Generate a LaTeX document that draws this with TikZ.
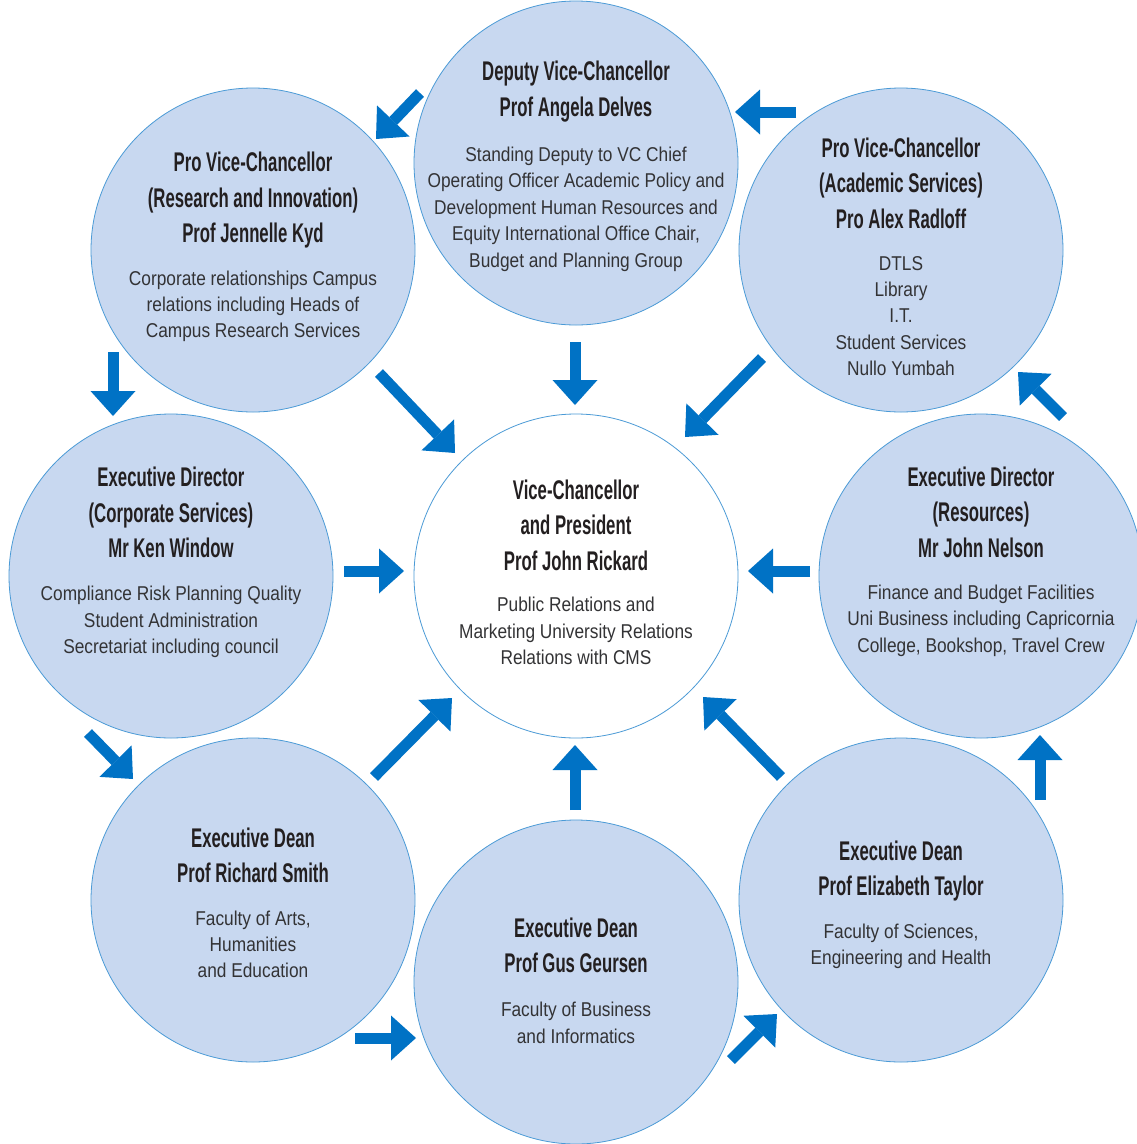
\documentclass[tikz,border=0pt]{standalone}
\usepackage{fontspec}
\setmainfont{Liberation Sans}
\newfontfamily\ttlfont[FakeStretch=0.62]{Liberation Sans}
\newfontfamily\bdyfont[FakeStretch=0.865]{Liberation Sans}
\usetikzlibrary{arrows.meta}
\definecolor{cfill}{HTML}{C8D8F0}
\definecolor{cline}{HTML}{4A9AD6}
\definecolor{arrc}{HTML}{0072C5}
\definecolor{tcol}{HTML}{231F20}
\definecolor{bcol}{HTML}{333335}
\tikzset{
  circ/.style={circle, minimum size=324pt, inner sep=0pt, fill=cfill, draw=cline, line width=0.8pt},
  ccirc/.style={circ, fill=white},
  ttl/.style={font=\ttlfont\bfseries\fontsize{27}{30}\selectfont, text=tcol, anchor=base, inner sep=0pt},
  bdy/.style={font=\bdyfont\fontsize{20}{24}\selectfont, text=bcol, anchor=base, inner sep=0pt},
  arr/.style={draw=arrc, line width=11pt, line cap=butt, -{Triangle[width=45pt,length=25pt,line width=0pt]}}
}
\newcommand\circtxt[6]{%
  \foreach \myln [count=\i] in {#4} {\node[ttl] (#1-t\i) at (#2,{#3+35.5*(\i-1)}) {\myln};}
  \foreach \myln [count=\i] in {#6} {\node[bdy] (#1-b\i) at (#2,{#5+26.4*(\i-1)}) {\myln};}
}
\begin{document}
\begin{tikzpicture}[x=1pt,y=-1pt]
\fill[white] (0,0) rectangle (1137,1144);
\useasboundingbox (0,0) rectangle (1137,1144);
\begin{scope}
\clip (0,0) rectangle (1137,1144);
% circles
\node[circ] (dvc) at (576,163) {};
\node[circ] (pvr) at (253,250) {};
\node[circ] (pva) at (901,250) {};
\node[circ] (edc) at (171,576) {};
\node[ccirc] (vc) at (576,576) {};
\node[circ] (edr) at (981,576) {};
\node[circ] (eds) at (253,900) {};
\node[circ] (edg) at (576,982) {};
\node[circ] (edt) at (901,900) {};
\end{scope}
% texts
\circtxt{dvc}{576}{80.7}{Deputy Vice-Chancellor, Prof Angela Delves}{161.5}{Standing Deputy to VC Chief, Operating Officer Academic Policy and, Development Human Resources and, {Equity International Office Chair,}, Budget and Planning Group}
\circtxt{pvr}{253}{171.5}{Pro Vice-Chancellor, (Research and Innovation), Prof Jennelle Kyd}{285}{Corporate relationships Campus, relations including Heads of, Campus Research Services}
\circtxt{pva}{901}{157.3}{Pro Vice-Chancellor, (Academic Services), Pro Alex Radloff}{270}{DTLS, Library, I.T., Student Services, Nullo Yumbah}
\circtxt{edc}{171}{486.7}{Executive Director, (Corporate Services), Mr Ken Window}{600.7}{Compliance Risk Planning Quality, Student Administration, Secretariat including council}
\circtxt{edr}{981}{486}{Executive Director, (Resources), Mr John Nelson}{599.3}{Finance and Budget Facilities, Uni Business including Capricornia, {College, Bookshop, Travel Crew}}
\circtxt{vc}{576}{499.3}{Vice-Chancellor, and President, Prof John Rickard}{611.7}{Public Relations and, Marketing University Relations, Relations with CMS}
\circtxt{eds}{253}{847.3}{Executive Dean, Prof Richard Smith}{925}{{Faculty of Arts,}, Humanities, and Education}
\circtxt{edg}{576}{937.3}{Executive Dean, Prof Gus Geursen}{1016.7}{Faculty of Business, and Informatics}
\circtxt{edt}{901}{860}{Executive Dean, Prof Elizabeth Taylor}{938.5}{{Faculty of Sciences,}, Engineering and Health}
% arrow end points
\coordinate (a1s) at (420,93);   \coordinate (a1e) at (376,139);
\coordinate (a2s) at (796,112);  \coordinate (a2e) at (735,112);
\coordinate (a3s) at (379,373);  \coordinate (a3e) at (455,453);
\coordinate (a4s) at (575,342);  \coordinate (a4e) at (575,405);
\coordinate (a5s) at (762,358);  \coordinate (a5e) at (685,437);
\coordinate (a6s) at (113,352);  \coordinate (a6e) at (113,416);
\coordinate (a7s) at (1063,417); \coordinate (a7e) at (1018,372);
\coordinate (a8s) at (344,571);  \coordinate (a8e) at (404,571);
\coordinate (a9s) at (810,571);  \coordinate (a9e) at (748,571);
\coordinate (a10s) at (88,733);  \coordinate (a10e) at (133,779);
\coordinate (a11s) at (374,777); \coordinate (a11e) at (452,698);
\coordinate (a12s) at (575,810); \coordinate (a12e) at (575,745);
\coordinate (a13s) at (781,777); \coordinate (a13e) at (703,697);
\coordinate (a14s) at (1040,800);\coordinate (a14e) at (1040,735);
\coordinate (a15s) at (355,1038);\coordinate (a15e) at (416,1038);
\coordinate (a16s) at (731,1060);\coordinate (a16e) at (777,1014);
\foreach \k in {1,...,16} {\draw[arr] (a\k s) -- (a\k e);}
\end{tikzpicture}
\end{document}
